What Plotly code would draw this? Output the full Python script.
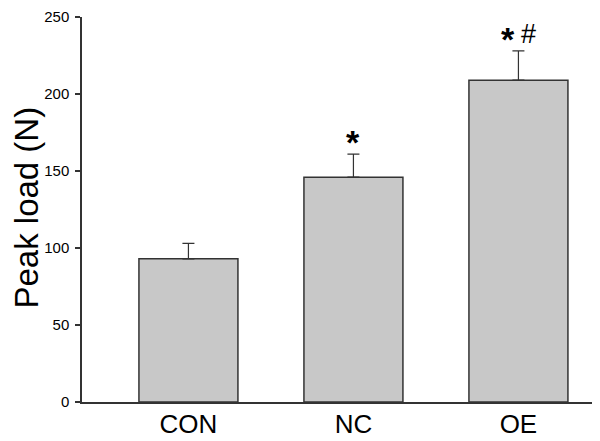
import plotly.graph_objects as go

categories = ["CON", "NC", "OE"]
peak_load = [93, 146, 209]
sd_upper = [10, 15, 19]
sig_labels = ["", "*", "*#"]
y_ticks = [0, 50, 100, 150, 200, 250]

fig = go.Figure()
fig.add_trace(go.Bar(
    x=categories, y=peak_load, width=0.6,
    marker=dict(color="#c8c8c8", line=dict(color="#333333", width=1.5)),
    error_y=dict(type="data", array=sd_upper, symmetric=False,
                 arrayminus=[0]*len(sd_upper), color="#333333",
                 thickness=1.2, width=6),
))

sym_style = {
    "*": dict(text="<b>*</b>", size=34, yshift=-9),
    "#": dict(text="#", size=27, yshift=0),
}
for c, v, e, s in zip(categories, peak_load, sd_upper, sig_labels):
    n = len(s)
    for i, ch in enumerate(s):
        st = sym_style[ch]
        xoff = (i - (n - 1) / 2) * 20
        fig.add_annotation(x=c, y=v + e, text=st["text"], showarrow=False,
                           yanchor="bottom", yshift=st["yshift"], xshift=xoff,
                           font=dict(family="Liberation Sans, Arial", size=st["size"], color="black"))

fig.add_annotation(xref="paper", yref="paper", x=0, y=0.505, xshift=-55,
                   xanchor="center", yanchor="middle", textangle=-90,
                   text="Peak load (N)", showarrow=False,
                   font=dict(family="Liberation Sans, Arial", size=33, color="black"))

# page body has an 8px margin; size the figure so the plot lands where the reference has it
fig.update_layout(
    width=592, height=433,
    margin=dict(l=74, r=6, t=9, b=39),
    paper_bgcolor="white", plot_bgcolor="white",
    showlegend=False,
    font=dict(family="Liberation Sans, Arial", color="black"),
)
fig.update_xaxes(
    range=[-0.645, 2.458], showline=True, linecolor="#333333", linewidth=1.5,
    ticks="", tickfont=dict(size=26), showgrid=False, zeroline=False,
    automargin=False, ticklabelstandoff=-2, ticklabeloverflow="allow",
)
fig.update_yaxes(
    range=[0, 250], tickvals=y_ticks, showline=True, linecolor="#333333",
    linewidth=1.5, ticks="outside", ticklen=5, tickcolor="#333333", tickwidth=1.5,
    tickfont=dict(size=15), showgrid=False, zeroline=False, automargin=False,
    ticklabelstandoff=3, ticklabeloverflow="allow",
)
fig.write_html("out.html")
